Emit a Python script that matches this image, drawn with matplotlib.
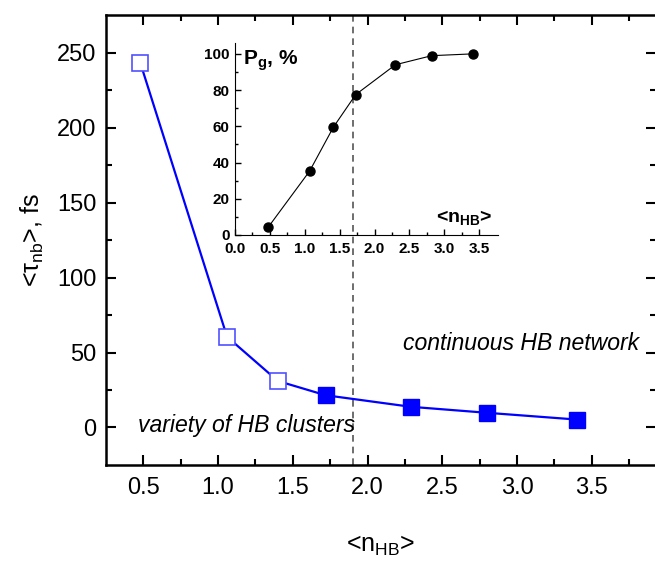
import matplotlib
matplotlib.use('Agg')
import matplotlib.pyplot as plt

plt.rcParams['font.family'] = ['Liberation Sans', 'DejaVu Sans']
plt.rcParams['mathtext.fontset'] = 'custom'
plt.rcParams['mathtext.rm'] = 'Liberation Sans'
plt.rcParams['mathtext.it'] = 'Liberation Sans:italic'
plt.rcParams['mathtext.bf'] = 'Liberation Sans:bold'

# main panel: relaxation time vs mean number of H-bonds
n_hb = [0.48, 1.06, 1.40, 1.72, 2.29, 2.80, 3.40]
tau_nb = [243, 60.5, 31, 21.5, 13.8, 9.8, 5.3]
n_open = 3  # first points drawn as open squares

# inset: percolation probability
n_hb_inset = [0.48, 1.07, 1.41, 1.73, 2.30, 2.82, 3.41]
p_g = [4.5, 35.3, 59.5, 77.5, 94, 99, 100]

threshold = 1.9

fig = plt.figure(figsize=(6.55, 5.62), dpi=100)
ax = fig.add_axes([0.1618, 0.1726, 0.8397, 0.8007])

ax.plot(n_hb, tau_nb, color='#0000ff', lw=1.6, zorder=2)
ax.plot(n_hb[:n_open], tau_nb[:n_open], 's', ms=11, mfc='white',
        mec='#5050ff', mew=1.2, zorder=3)
ax.plot(n_hb[n_open:], tau_nb[n_open:], 's', ms=11, mfc='#0000ff',
        mec='#0000ff', zorder=3)
ax.axvline(threshold, color='#555555', ls=(0, (4, 3)), lw=1.2, zorder=1)

ax.set_xlim(0.25, 3.93)
ax.set_ylim(-25, 275)
ax.set_xticks([0.5, 1.0, 1.5, 2.0, 2.5, 3.0, 3.5])
ax.set_yticks([0, 50, 100, 150, 200, 250])
ax.set_xticks([0.75, 1.25, 1.75, 2.25, 2.75, 3.25, 3.75], minor=True)
ax.set_yticks([25, 75, 125, 175, 225], minor=True)
ax.tick_params(which='both', direction='in', top=True, right=True,
               labelsize=17, width=1.5)
ax.tick_params(which='major', length=7)
ax.tick_params(which='minor', length=4)
ax.tick_params(axis='x', pad=9)
ax.tick_params(axis='y', pad=7)
for s in ax.spines.values():
    s.set_linewidth(1.8)

ax.set_xlabel(r'<n$_{\mathregular{HB}}$>', fontsize=18, labelpad=25)
ax.set_ylabel(r'<$\mathregular{\tau_{nb}}$>, fs', fontsize=18, labelpad=8)

ax.text(3.03, 56, 'continuous HB network', style='italic', fontsize=16.6,
        ha='center', va='center')
ax.text(1.19, 1.5, 'variety of HB clusters', style='italic', fontsize=16.6,
        ha='center', va='center')

# inset
ins = fig.add_axes([0.3588, 0.5819, 0.4015, 0.3416])
ins.patch.set_alpha(0)
ins.plot(n_hb_inset, p_g, '-o', color='black', lw=0.8, ms=6.5)
ins.set_xlim(0, 3.77)
ins.set_ylim(0, 106)
ins.spines['top'].set_visible(False)
ins.spines['right'].set_visible(False)
ins.set_xticks([0, 0.5, 1.0, 1.5, 2.0, 2.5, 3.0, 3.5])
ins.set_xticklabels(['0.0', '0.5', '1.0', '1.5', '2.0', '2.5', '3.0', '3.5'])
ins.set_yticks([0, 20, 40, 60, 80, 100])
ins.set_xticks([0.25, 0.75, 1.25, 1.75, 2.25, 2.75, 3.25], minor=True)
ins.set_yticks([10, 30, 50, 70, 90], minor=True)
ins.tick_params(which='both', direction='in', labelsize=11, width=1)
ins.tick_params(which='major', length=4)
ins.tick_params(which='minor', length=2)
ins.tick_params(axis='x', pad=5)
ins.tick_params(axis='y', pad=4)
for lab in ins.get_xticklabels() + ins.get_yticklabels():
    lab.set_fontweight('bold')
ins.text(0.03, 0.97, r'$\mathbf{P_g}$, %', transform=ins.transAxes,
         fontsize=15, fontweight='bold', va='top', ha='left')
ins.text(0.98, 0.04, r'<n$_{\mathbf{HB}}$>', transform=ins.transAxes,
         fontsize=14, fontweight='bold', va='bottom', ha='right')

fig.savefig('out.png', dpi=100)
